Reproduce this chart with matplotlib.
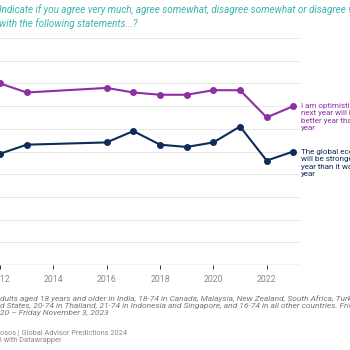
import matplotlib
matplotlib.use("Agg")
import matplotlib.pyplot as plt

plt.rcParams['font.family'] = ['Roboto', 'DejaVu Sans']

years = [2012, 2013, 2016, 2017, 2018, 2019, 2020, 2021, 2022, 2023]
optimistic = [80, 76, 78, 76, 75, 75, 77, 77, 65, 70]
economy = [49, 53, 54, 59, 53, 52, 54, 61, 46, 50]
xticks = [2012, 2014, 2016, 2018, 2020, 2022]
yticks = list(range(0, 101, 10))

label_opt = "I am optimistic that\nnext year will be a\nbetter year than this\nyear"
label_eco = "The global economy\nwill be stronger next\nyear than it was this\nyear"
title = ("Indicate if you agree very much, agree somewhat, disagree somewhat or disagree very much\n"
         "with the following statements...?")
note = ("dults aged 18 years and older in India, 18-74 in Canada, Malaysia, New Zealand, South Africa, Turkey\n"
        "d States, 20-74 in Thailand, 21-74 in Indonesia and Singapore, and 16-74 in all other countries. Friday\n"
        "20 \u2013 Friday November 3, 2023")
source = "osos | Global Advisor Predictions 2024\nl with Datawrapper"

PURPLE = "#8e2fa6"
NAVY = "#0d2c59"
TEAL = "#3ab5ad"

W = H = 350
fig = plt.figure(figsize=(3.5, 3.5), dpi=100)
ax = fig.add_axes([0, (H - 265) / H, 300 / W, (265 - 38) / H])
ax.set_xlim(2012, 2012 + 300 / 26.67)
ax.set_ylim(0, 100)

for v in yticks[1:]:
    ax.axhline(v, color="#e8e8e8", lw=0.7, zorder=0)
ax.axhline(0, color="#333333", lw=0.8, zorder=1)

ax.plot(years, optimistic, color=PURPLE, lw=1.5, marker="o", ms=4.0, clip_on=False, zorder=3)
ax.plot(years, economy, color=NAVY, lw=1.5, marker="o", ms=4.0, clip_on=False, zorder=3)

for s in ax.spines.values():
    s.set_visible(False)
ax.set_yticks([])
ax.set_xticks(xticks)
ax.set_xticklabels([str(t) for t in xticks])
ax.tick_params(axis="x", length=3, width=0.7, color="#333333", labelsize=6.3,
               labelcolor="#8a8a8a", pad=4)

fig.text(301 / W, 1 - 103 / H, label_opt, color=PURPLE, fontsize=5.8, va="top", ha="left",
         linespacing=1.25)
fig.text(301 / W, 1 - 149 / H, label_eco, color=NAVY, fontsize=5.8, va="top", ha="left",
         linespacing=1.25)

fig.text(-1 / W, 1 - 4 / H, title, color=TEAL, fontsize=7.1, style="italic", va="top", ha="left",
         linespacing=1.35)
fig.text(0, 1 - 295 / H, note, color="#777777", fontsize=6.0, style="italic", va="top", ha="left",
         linespacing=1.2)
fig.text(0, 1 - 329 / H, source, color="#8a8a8a", fontsize=5.3, va="top", ha="left",
         linespacing=1.3)

fig.savefig("out.png", dpi=100)
